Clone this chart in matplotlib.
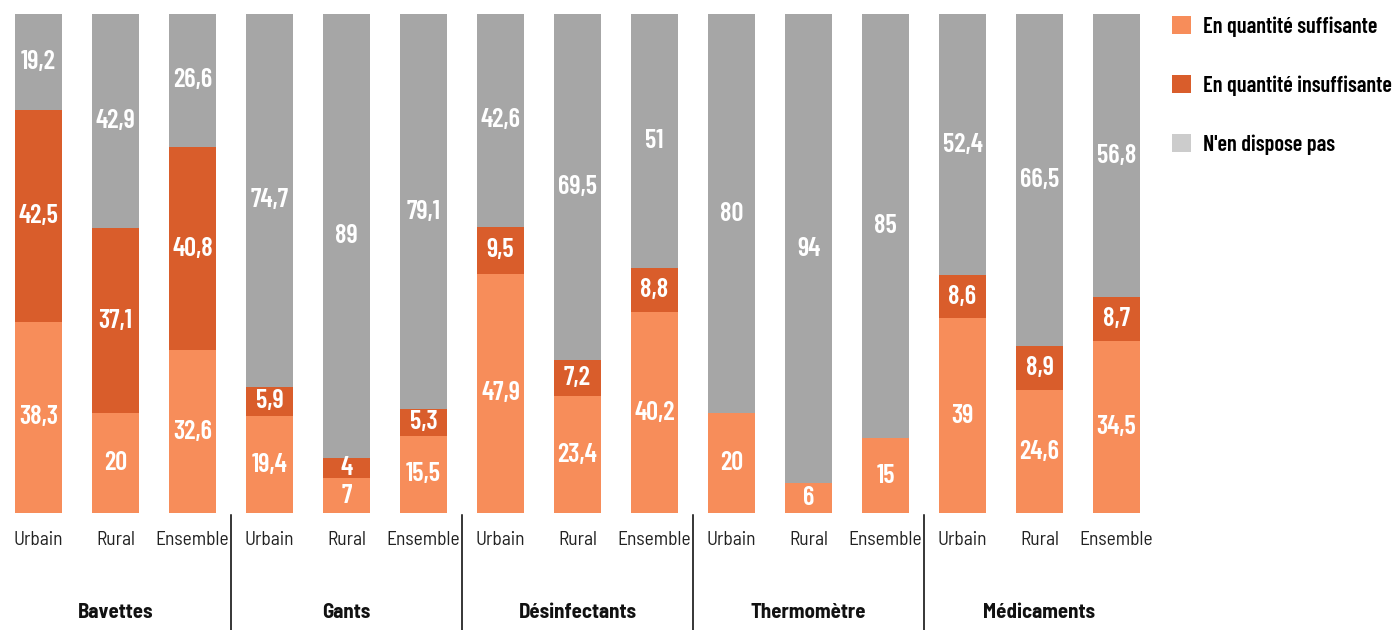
import matplotlib
matplotlib.use("Agg")
import matplotlib.pyplot as plt
from matplotlib.patches import Patch
from matplotlib import font_manager as fm

groups = ["Bavettes", "Gants", "Désinfectants", "Thermomètre", "Médicaments"]
zones = ["Urbain", "Rural", "Ensemble"]
series = ["En quantité suffisante", "En quantité insuffisante", "N'en dispose pas"]

suffisante = [38.3, 20, 32.6, 19.4, 7, 15.5, 47.9, 23.4, 40.2, 20, 6, 15, 39, 24.6, 34.5]
insuffisante = [42.5, 37.1, 40.8, 5.9, 4, 5.3, 9.5, 7.2, 8.8, 0, 0, 0, 8.6, 8.9, 8.7]
nen_dispose = [19.2, 42.9, 26.6, 74.7, 89, 79.1, 42.6, 69.5, 51, 80, 94, 85, 52.4, 66.5, 56.8]

colors = ["#F78D5A", "#D95D2B", "#A6A6A6"]
legend_colors = ["#F78D5A", "#D95D2B", "#CCCCCC"]

names = {f.name for f in fm.fontManager.ttflist}


def pick(prefs):
    for p in prefs:
        if p in names:
            return p
    return "DejaVu Sans"


cond = pick(["Barlow Condensed", "Roboto Condensed", "Archivo Narrow", "Liberation Sans Narrow", "Roboto"])
semi = pick(["Barlow Semi Condensed", "Barlow", "Roboto Condensed", "Roboto"])

W, H = 1394, 630
fig = plt.figure(figsize=(W / 100, H / 100), dpi=100)
ax = fig.add_axes([0 / W, (H - 513) / H, 1155 / W, 499 / H])

x = list(range(len(suffisante)))
bottoms = [0] * len(x)
for vals, col in zip([suffisante, insuffisante, nen_dispose], colors):
    ax.bar(x, vals, bottom=bottoms, width=0.6, color=col, linewidth=0)
    for xi, v, b in zip(x, vals, bottoms):
        if v > 0:
            ax.text(xi, b + v / 2, f"{v:g}".replace(".", ","), ha="center", va="center",
                    color="white", fontsize=19, fontweight="semibold", family=cond)
    bottoms = [b + v for b, v in zip(bottoms, vals)]

ax.set_xlim(-0.5, 14.5)
ax.set_ylim(0, 100)
ax.axis("off")

for xi in x:
    ax.text(xi, -5.5, zones[xi % 3], ha="center", va="center", fontsize=14,
            color="#222222", family=semi, clip_on=False)
for gi, g in enumerate(groups):
    ax.text(gi * 3 + 1, -20.0, g, ha="center", va="center", fontsize=15,
            fontweight="bold", color="#111111", family=semi, clip_on=False)
for gi in range(1, len(groups)):
    ax.plot([gi * 3 - 0.5] * 2, [-0.4, -23.5], color="black", linewidth=1.1,
            clip_on=False)

handles = [Patch(facecolor=c, edgecolor="none") for c in legend_colors]
fig.legend(handles, series, loc="upper left", bbox_to_anchor=(1172 / W, 1 - 16 / H),
           frameon=False, handlelength=0.85, handleheight=0.85, handletextpad=0.55,
           borderaxespad=0, borderpad=0,
           labelspacing=1.73, prop={"family": cond, "weight": "semibold", "size": 16})

fig.savefig("out.png", dpi=100)
